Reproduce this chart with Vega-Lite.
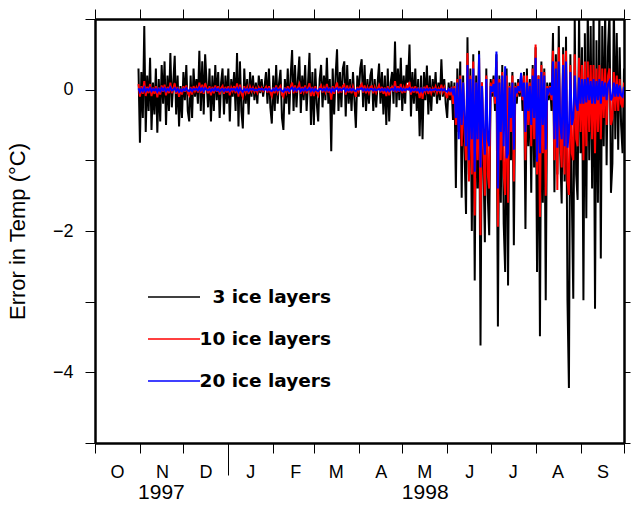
{
"$schema":"https://vega.github.io/schema/vega-lite/v6.json",
"width":529,"height":424,
"autosize":{"type":"none"},
"padding":{"left":95,"top":19,"right":7,"bottom":62},
"background":"white",
"config":{"view":{"stroke":null},"font":"Liberation Sans","axis":{"grid":false}},
"data":{"values":[
{"d":30,"a":0.3,"b":0.08,"c":0.02},{"d":31,"a":-0.75,"b":-0.1,"c":-0.03},{"d":32,"a":0.25,"b":0.05,"c":0.01},{"d":33,"a":-0.4,"b":-0.06,"c":-0.02},{"d":34,"a":0.9,"b":0.12,"c":0.03},{"d":35,"a":-0.6,"b":-0.09,"c":-0.02},{"d":36,"a":0.2,"b":0.04,"c":0.01},{"d":37,"a":-0.3,"b":-0.05,"c":-0.01},{"d":38,"a":0.45,"b":0.08,"c":0.02},{"d":39,"a":-0.57,"b":-0.09,"c":-0.02},
{"d":40,"a":0.1,"b":0.03,"c":0.01},{"d":41,"a":-0.35,"b":-0.06,"c":-0.01},{"d":42,"a":0.3,"b":0.05,"c":0.01},{"d":43,"a":-0.61,"b":-0.11,"c":-0.03},{"d":44,"a":0.15,"b":0.03,"c":0.01},{"d":45,"a":-0.45,"b":-0.07,"c":-0.02},{"d":46,"a":0.35,"b":0.06,"c":0.02},{"d":47,"a":-0.2,"b":-0.03,"c":-0.01},{"d":48,"a":0.4,"b":0.07,"c":0.02},{"d":49,"a":-0.5,"b":-0.08,"c":-0.02},
{"d":50,"a":0.2,"b":0.04,"c":0.01},{"d":51,"a":-0.3,"b":-0.05,"c":-0.01},{"d":52,"a":0.52,"b":0.1,"c":0.03},{"d":53,"a":-0.25,"b":-0.05,"c":-0.01},{"d":54,"a":0.1,"b":0.02,"c":0},{"d":55,"a":0.48,"b":0.09,"c":0.02},{"d":56,"a":-0.35,"b":-0.06,"c":-0.02},{"d":57,"a":0.2,"b":0.04,"c":0.01},{"d":58,"a":-0.52,"b":-0.1,"c":-0.03},{"d":59,"a":0.05,"b":0.01,"c":0},
{"d":60,"a":-0.4,"b":-0.07,"c":-0.02},{"d":61,"a":0.25,"b":0.05,"c":0.01},{"d":62,"a":-0.15,"b":-0.03,"c":-0.01},{"d":63,"a":0.35,"b":0.06,"c":0.02},{"d":64,"a":-0.3,"b":-0.05,"c":-0.01},{"d":65,"a":-0.45,"b":-0.08,"c":-0.02},{"d":66,"a":0.2,"b":0.04,"c":0.01},{"d":67,"a":-0.4,"b":-0.07,"c":-0.02},{"d":68,"a":0.3,"b":0.05,"c":0.01},{"d":69,"a":-0.1,"b":-0.02,"c":0},
{"d":70,"a":0.15,"b":0.03,"c":0.01},{"d":71,"a":-0.2,"b":-0.04,"c":-0.01},{"d":72,"a":0.55,"b":0.1,"c":0.03},{"d":73,"a":-0.3,"b":-0.05,"c":-0.01},{"d":74,"a":0.4,"b":0.07,"c":0.02},{"d":75,"a":-0.35,"b":-0.06,"c":-0.02},{"d":76,"a":0.5,"b":0.09,"c":0.02},{"d":77,"a":0.1,"b":0.02,"c":0},{"d":78,"a":-0.25,"b":-0.05,"c":-0.01},{"d":79,"a":0.3,"b":0.05,"c":0.01},
{"d":80,"a":-0.45,"b":-0.08,"c":-0.02},{"d":81,"a":0.2,"b":0.04,"c":0.01},{"d":82,"a":-0.3,"b":-0.05,"c":-0.01},{"d":83,"a":0.35,"b":0.06,"c":0.02},{"d":84,"a":-0.15,"b":-0.03,"c":-0.01},{"d":85,"a":0.25,"b":0.05,"c":0.01},{"d":86,"a":-0.4,"b":-0.07,"c":-0.02},{"d":87,"a":0.1,"b":0.02,"c":0},{"d":88,"a":0.3,"b":0.05,"c":0.01},{"d":89,"a":-0.35,"b":-0.06,"c":-0.02},
{"d":90,"a":0.2,"b":0.04,"c":0.01},{"d":91,"a":-0.2,"b":-0.04,"c":-0.01},{"d":92,"a":0.3,"b":0.05,"c":0.01},{"d":93,"a":-0.45,"b":-0.08,"c":-0.02},{"d":94,"a":0.15,"b":0.03,"c":0.01},{"d":95,"a":-0.1,"b":-0.02,"c":0},{"d":96,"a":0.25,"b":0.05,"c":0.01},{"d":97,"a":-0.3,"b":-0.05,"c":-0.01},{"d":98,"a":0.52,"b":0.09,"c":0.02},{"d":99,"a":-0.52,"b":-0.1,"c":-0.03},
{"d":100,"a":0.4,"b":0.07,"c":0.02},{"d":101,"a":-0.3,"b":-0.05,"c":-0.01},{"d":102,"a":-0.55,"b":-0.1,"c":-0.03},{"d":103,"a":0.3,"b":0.05,"c":0.01},{"d":104,"a":-0.2,"b":-0.04,"c":-0.01},{"d":105,"a":0.15,"b":0.03,"c":0.01},{"d":106,"a":-0.35,"b":-0.06,"c":-0.02},{"d":107,"a":0.25,"b":0.04,"c":0.01},{"d":108,"a":-0.1,"b":-0.02,"c":0},{"d":109,"a":0.2,"b":0.03,"c":0.01},
{"d":110,"a":-0.15,"b":-0.03,"c":-0.01},{"d":111,"a":0.1,"b":0.02,"c":0},{"d":112,"a":-0.2,"b":-0.04,"c":-0.01},{"d":113,"a":0.2,"b":0.03,"c":0.01},{"d":114,"a":-0.05,"b":-0.01,"c":0},{"d":115,"a":0.15,"b":0.03,"c":0.01},{"d":116,"a":-0.1,"b":-0.02,"c":0},{"d":117,"a":0.05,"b":0.01,"c":0},{"d":118,"a":0.25,"b":0.04,"c":0.01},{"d":119,"a":-0.2,"b":-0.04,"c":-0.01},
{"d":120,"a":0.3,"b":0.05,"c":0.01},{"d":121,"a":-0.25,"b":-0.04,"c":-0.01},{"d":122,"a":-0.48,"b":-0.09,"c":-0.02},{"d":123,"a":0.2,"b":0.03,"c":0.01},{"d":124,"a":-0.3,"b":-0.05,"c":-0.01},{"d":125,"a":0.35,"b":0.06,"c":0.02},{"d":126,"a":-0.2,"b":-0.04,"c":-0.01},{"d":127,"a":0.1,"b":0.02,"c":0},{"d":128,"a":0.28,"b":0.05,"c":0.01},{"d":129,"a":-0.4,"b":-0.07,"c":-0.02},
{"d":130,"a":-0.57,"b":-0.1,"c":-0.03},{"d":131,"a":0.15,"b":0.03,"c":0.01},{"d":132,"a":-0.2,"b":-0.04,"c":-0.01},{"d":133,"a":0.3,"b":0.05,"c":0.01},{"d":134,"a":-0.35,"b":-0.06,"c":-0.02},{"d":135,"a":0.2,"b":0.04,"c":0.01},{"d":136,"a":0.56,"b":0.1,"c":0.03},{"d":137,"a":-0.3,"b":-0.05,"c":-0.01},{"d":138,"a":0.35,"b":0.06,"c":0.02},{"d":139,"a":-0.25,"b":-0.04,"c":-0.01},
{"d":140,"a":0.15,"b":0.03,"c":0.01},{"d":141,"a":0.47,"b":0.08,"c":0.02},{"d":142,"a":-0.33,"b":-0.06,"c":-0.02},{"d":143,"a":0.2,"b":0.04,"c":0.01},{"d":144,"a":-0.15,"b":-0.03,"c":-0.01},{"d":145,"a":0.35,"b":0.06,"c":0.02},{"d":146,"a":-0.3,"b":-0.05,"c":-0.01},{"d":147,"a":0.1,"b":0.02,"c":0},{"d":148,"a":0.52,"b":0.09,"c":0.02},{"d":149,"a":-0.5,"b":-0.09,"c":-0.02},
{"d":150,"a":0.25,"b":0.04,"c":0.01},{"d":151,"a":-0.5,"b":-0.09,"c":-0.02},{"d":152,"a":0.3,"b":0.05,"c":0.01},{"d":153,"a":-0.2,"b":-0.04,"c":-0.01},{"d":154,"a":-0.45,"b":-0.08,"c":-0.02},{"d":155,"a":0.15,"b":0.03,"c":0.01},{"d":156,"a":0.35,"b":0.06,"c":0.01},{"d":157,"a":-0.25,"b":-0.04,"c":-0.01},{"d":158,"a":0.2,"b":0.03,"c":0.01},{"d":159,"a":-0.15,"b":-0.03,"c":-0.01},
{"d":160,"a":0.45,"b":0.08,"c":0.02},{"d":161,"a":-0.2,"b":-0.04,"c":-0.01},{"d":162,"a":0.15,"b":0.03,"c":0.01},{"d":163,"a":-0.87,"b":-0.14,"c":-0.03},{"d":164,"a":0.3,"b":0.05,"c":0.01},{"d":165,"a":-0.35,"b":-0.06,"c":-0.02},{"d":166,"a":0.2,"b":0.04,"c":0.01},{"d":167,"a":0.57,"b":0.1,"c":0.02},{"d":168,"a":-0.3,"b":-0.05,"c":-0.01},{"d":169,"a":0.25,"b":0.04,"c":0.01},
{"d":170,"a":-0.25,"b":-0.04,"c":-0.01},{"d":171,"a":0.3,"b":0.05,"c":0.01},{"d":172,"a":0.4,"b":0.07,"c":0.02},{"d":173,"a":-0.38,"b":-0.07,"c":-0.02},{"d":174,"a":0.35,"b":0.06,"c":0.01},{"d":175,"a":-0.2,"b":-0.04,"c":-0.01},{"d":176,"a":0.15,"b":0.03,"c":0.01},{"d":177,"a":-0.3,"b":-0.05,"c":-0.01},{"d":178,"a":0.25,"b":0.04,"c":0.01},{"d":179,"a":-0.15,"b":-0.03,"c":-0.01},
{"d":180,"a":-0.54,"b":-0.1,"c":-0.02},{"d":181,"a":0.2,"b":0.04,"c":0.01},{"d":182,"a":-0.1,"b":-0.02,"c":0},{"d":183,"a":0.3,"b":0.05,"c":0.01},{"d":184,"a":0.43,"b":0.08,"c":0.02},{"d":185,"a":-0.25,"b":-0.04,"c":-0.01},{"d":186,"a":0.35,"b":0.06,"c":0.01},{"d":187,"a":-0.3,"b":-0.05,"c":-0.01},{"d":188,"a":0.15,"b":0.03,"c":0.01},{"d":189,"a":-0.2,"b":-0.04,"c":-0.01},
{"d":190,"a":0.2,"b":0.04,"c":0.01},{"d":191,"a":0.3,"b":0.05,"c":0.01},{"d":192,"a":-0.3,"b":-0.05,"c":-0.01},{"d":193,"a":0.15,"b":0.03,"c":0.01},{"d":194,"a":-0.25,"b":-0.04,"c":-0.01},{"d":195,"a":0.1,"b":0.02,"c":0},{"d":196,"a":0.37,"b":0.06,"c":0.01},{"d":197,"a":-0.2,"b":-0.04,"c":-0.01},{"d":198,"a":0.25,"b":0.04,"c":0.01},{"d":199,"a":-0.35,"b":-0.06,"c":-0.01},
{"d":200,"a":0.2,"b":0.03,"c":0.01},{"d":201,"a":-0.5,"b":-0.09,"c":-0.02},{"d":202,"a":0.3,"b":0.05,"c":0.01},{"d":203,"a":-0.45,"b":-0.08,"c":-0.02},{"d":204,"a":0.1,"b":0.02,"c":0},{"d":205,"a":0.25,"b":0.04,"c":0.01},{"d":206,"a":-0.2,"b":-0.03,"c":-0.01},{"d":207,"a":0.68,"b":0.12,"c":0.03},{"d":208,"a":-0.25,"b":-0.04,"c":-0.01},{"d":209,"a":0.3,"b":0.05,"c":0.01},
{"d":210,"a":-0.15,"b":-0.03,"c":-0.01},{"d":211,"a":0.45,"b":0.08,"c":0.02},{"d":212,"a":-0.3,"b":-0.05,"c":-0.01},{"d":213,"a":0.2,"b":0.03,"c":0.01},{"d":214,"a":-0.2,"b":-0.04,"c":-0.01},{"d":215,"a":0.35,"b":0.06,"c":0.01},{"d":216,"a":0.1,"b":0.02,"c":0},{"d":217,"a":0.64,"b":0.11,"c":0.02},{"d":218,"a":-0.38,"b":-0.07,"c":-0.02},{"d":219,"a":0.25,"b":0.04,"c":0.01},
{"d":220,"a":-0.2,"b":-0.04,"c":-0.01},{"d":221,"a":0.3,"b":0.05,"c":0.01},{"d":222,"a":-0.3,"b":-0.05,"c":-0.01},{"d":223,"a":0.15,"b":0.03,"c":0.01},{"d":224,"a":-0.66,"b":-0.12,"c":-0.03},{"d":225,"a":0.2,"b":0.03,"c":0.01},{"d":226,"a":-0.7,"b":-0.13,"c":-0.03},{"d":227,"a":0.25,"b":0.04,"c":0.01},{"d":228,"a":-0.15,"b":-0.03,"c":-0.01},{"d":229,"a":0.34,"b":0.06,"c":0.01},
{"d":230,"a":-0.35,"b":-0.06,"c":-0.01},{"d":231,"a":0.2,"b":0.03,"c":0.01},{"d":232,"a":-0.3,"b":-0.05,"c":-0.01},{"d":233,"a":0.15,"b":0.02,"c":0},{"d":234,"a":-0.1,"b":-0.02,"c":0},{"d":235,"a":0.25,"b":0.04,"c":0.01},{"d":236,"a":-0.2,"b":-0.04,"c":-0.01},{"d":237,"a":0.1,"b":0.02,"c":0},{"d":238,"a":-0.15,"b":-0.03,"c":-0.01},{"d":239,"a":0.43,"b":0.07,"c":0.01},
{"d":240,"a":-0.1,"b":-0.03,"c":-0.01},{"d":241,"a":0.15,"b":0.03,"c":0.01},{"d":242,"a":-0.2,"b":-0.06,"c":-0.02},{"d":243,"a":-0.4,"b":-0.12,"c":-0.03},{"d":244,"a":0.1,"b":0.02,"c":0.01},{"d":245,"a":-0.15,"b":-0.08,"c":-0.02},{"d":246,"a":0.12,"b":0.04,"c":0.01},{"d":247,"a":-0.43,"b":-0.2,"c":-0.05},{"d":248,"a":0.1,"b":0.05,"c":0.02},
{"d":249,"a":-1.39,"b":-0.5,"c":-0.4},{"d":250,"a":0.3,"b":0.15,"c":0.1},{"d":251,"a":-0.6,"b":-0.6,"c":-0.7},{"d":252,"a":0.4,"b":0.2,"c":0.15},{"d":253,"a":-1.53,"b":-0.8,"c":-0.5},{"d":254,"a":0.2,"b":0.1,"c":0.1},{"d":255,"a":-0.9,"b":-0.6,"c":-0.4},{"d":256,"a":-1.76,"b":-1.0,"c":-0.8},{"d":257,"a":0.74,"b":0.52,"c":0.35},{"d":258,"a":-1.2,"b":-1.3,"c":-1.0},{"d":259,"a":0.3,"b":0.2,"c":0.15},
{"d":260,"a":-2.0,"b":-1.2,"c":-0.7},{"d":261,"a":0.5,"b":0.4,"c":0.3},{"d":262,"a":-2.7,"b":-1.78,"c":-1.16},{"d":263,"a":0.2,"b":0.1,"c":0.1},{"d":264,"a":-1.4,"b":-1.0,"c":-0.7},{"d":265,"a":0.55,"b":0.45,"c":0.5},{"d":266,"a":-3.62,"b":-2.06,"c":-1.1},{"d":267,"a":0.1,"b":0.1,"c":0.05},{"d":268,"a":-1.0,"b":-0.8,"c":-0.6},{"d":269,"a":-2.16,"b":-1.5,"c":-0.92},
{"d":270,"a":0.3,"b":0.2,"c":0.15},{"d":271,"a":-1.5,"b":-1.2,"c":-0.7},{"d":272,"a":-2.06,"b":-1.4,"c":-0.8},{"d":273,"a":0.15,"b":0.1,"c":0.05},{"d":274,"a":-0.1,"b":-0.05,"c":-0.03},{"d":275,"a":0.2,"b":0.15,"c":0.08},{"d":276,"a":-0.3,"b":-0.2,"c":-0.1},{"d":277,"a":0.5,"b":0.4,"c":0.54},{"d":278,"a":-3.35,"b":-1.94,"c":-1.4},{"d":279,"a":0.2,"b":0.15,"c":0.1},
{"d":280,"a":-1.6,"b":-1.0,"c":-0.6},{"d":281,"a":0.35,"b":0.25,"c":0.2},{"d":282,"a":-1.9,"b":-1.2,"c":-0.8},{"d":283,"a":-2.58,"b":-1.49,"c":0.33},{"d":284,"a":0.3,"b":0.2,"c":-0.97},{"d":285,"a":-2.77,"b":-1.6,"c":-0.9},{"d":286,"a":0.1,"b":0.05,"c":0.03},{"d":287,"a":-1.0,"b":-0.6,"c":-0.4},{"d":288,"a":0.25,"b":0.2,"c":0.1},{"d":289,"a":-2.2,"b":-1.3,"c":-0.85},
{"d":290,"a":0.1,"b":0.05,"c":0.03},{"d":291,"a":-0.2,"b":-0.1,"c":-0.05},{"d":292,"a":0.15,"b":0.1,"c":0.05},{"d":293,"a":-0.1,"b":-0.05,"c":-0.02},{"d":294,"a":0.2,"b":0.15,"c":0.24},{"d":295,"a":-0.3,"b":-0.15,"c":-0.1},{"d":296,"a":0.25,"b":0.2,"c":0.1},{"d":297,"a":-1.97,"b":-1.0,"c":-0.6},{"d":298,"a":0.3,"b":0.2,"c":0.1},{"d":299,"a":-0.8,"b":-0.5,"c":-0.3},
{"d":300,"a":0.15,"b":0.1,"c":0.05},{"d":301,"a":-1.46,"b":-0.8,"c":-0.5},{"d":302,"a":0.35,"b":0.3,"c":0.2},{"d":303,"a":-1.1,"b":-0.7,"c":-0.4},{"d":304,"a":0.6,"b":0.64,"c":0.45},{"d":305,"a":-2.58,"b":-1.2,"c":-1.02},{"d":306,"a":0.2,"b":0.2,"c":0.15},{"d":307,"a":-3.49,"b":-1.8,"c":-0.9},{"d":308,"a":0.4,"b":0.35,"c":0.25},{"d":309,"a":-1.6,"b":-0.9,"c":-0.5},
{"d":310,"a":0.3,"b":0.25,"c":0.2},{"d":311,"a":-2.98,"b":-1.5,"c":-0.85},{"d":312,"a":0.1,"b":0.05,"c":0.02},{"d":313,"a":-0.15,"b":-0.08,"c":-0.04},{"d":314,"a":0.1,"b":0.05,"c":0.03},{"d":315,"a":-0.3,"b":-0.15,"c":-0.08},{"d":316,"a":0.8,"b":0.55,"c":0.4},{"d":317,"a":-1.45,"b":-1.0,"c":-0.7},{"d":318,"a":0.5,"b":0.4,"c":0.3},{"d":319,"a":-1.2,"b":-1.42,"c":-0.82},
{"d":320,"a":0.9,"b":0.6,"c":0.4},{"d":321,"a":-0.9,"b":-0.7,"c":-0.5},{"d":322,"a":-1.61,"b":-1.1,"c":-0.7},{"d":323,"a":0.6,"b":0.5,"c":0.35},{"d":324,"a":-1.3,"b":-1.2,"c":-0.8},{"d":325,"a":0.75,"b":0.55,"c":0.4},{"d":326,"a":-2.98,"b":-1.3,"c":-0.82},{"d":327,"a":-4.22,"b":-1.49,"c":-0.6},{"d":328,"a":0.5,"b":0.35,"c":0.25},{"d":329,"a":-1.5,"b":-0.9,"c":-0.5},
{"d":330,"a":-2.96,"b":-1.0,"c":-0.4},{"d":331,"a":1.05,"b":0.5,"c":0.2},{"d":332,"a":-1.2,"b":-0.7,"c":-0.2},{"d":333,"a":-1.56,"b":-0.8,"c":-0.3},{"d":334,"a":1.1,"b":0.45,"c":0.17},{"d":335,"a":-0.9,"b":-0.6,"c":-0.2},{"d":336,"a":0.6,"b":0.35,"c":0.15},{"d":337,"a":-2.98,"b":-1.0,"c":-0.2},{"d":338,"a":0.8,"b":0.4,"c":0.15},{"d":339,"a":-1.82,"b":-0.8,"c":-0.18},
{"d":340,"a":1.2,"b":0.4,"c":0.17},{"d":341,"a":-1.0,"b":-0.6,"c":-0.15},{"d":342,"a":0.9,"b":0.35,"c":0.12},{"d":343,"a":-1.4,"b":-0.7,"c":-0.2},{"d":344,"a":1.1,"b":0.35,"c":0.15},{"d":345,"a":-3.1,"b":-0.9,"c":-0.2},{"d":346,"a":0.7,"b":0.3,"c":0.12},{"d":347,"a":-1.6,"b":-0.6,"c":-0.15},{"d":348,"a":1.2,"b":0.35,"c":0.15},{"d":349,"a":-2.39,"b":-0.7,"c":-0.2},
{"d":350,"a":0.9,"b":0.3,"c":0.12},{"d":351,"a":-0.8,"b":-0.4,"c":-0.1},{"d":352,"a":1.15,"b":0.3,"c":0.1},{"d":353,"a":-1.07,"b":-0.5,"c":-0.15},{"d":354,"a":0.6,"b":0.2,"c":0.08},{"d":355,"a":1.1,"b":0.3,"c":0.12},{"d":356,"a":-1.46,"b":-0.5,"c":-0.15},{"d":357,"a":-1.04,"b":-0.4,"c":-0.1},{"d":358,"a":1.2,"b":0.25,"c":0.1},{"d":359,"a":-0.7,"b":-0.3,"c":-0.1},
{"d":360,"a":0.8,"b":0.2,"c":0.08},{"d":361,"a":-0.85,"b":-0.3,"c":-0.1},{"d":362,"a":0.6,"b":0.15,"c":0.06},{"d":363,"a":-0.5,"b":-0.2,"c":-0.08},{"d":364,"a":-0.9,"b":-0.25,"c":-0.1},{"d":365,"a":0.3,"b":0.1,"c":0.04}
]},
"layer":[
{"mark":{"type":"line","strokeWidth":2,"clip":true},
 "encoding":{
  "x":{"field":"d","type":"quantitative","scale":{"domain":[0,365],"nice":false,"zero":false},
   "axis":{"orient":"bottom","values":[0,31,61,92,123,151,182,212,243,273,304,335,365],
    "labelExpr":"['O','N','D','J','F','M','A','M','J','J','A','S',''][indexof([0,31,61,92,123,151,182,212,243,273,304,335,365], datum.value)]",
    "labelOffset":22,"labelPadding":10,"labelFontSize":18,"labelColor":"black","labelFlush":false,"labelOverlap":false,
    "tickSize":10,"tickColor":"black","tickWidth":1,
    "domainColor":"black","domainWidth":2.5,"title":null}},
  "y":{"field":"a","type":"quantitative","scale":{"domain":[-5,1],"nice":false,"zero":false},
   "axis":{"orient":"left","values":[-5,-4,-3,-2,-1,0,1],
    "labelExpr":"datum.value == 0 ? '0' : datum.value == -2 ? '−2' : datum.value == -4 ? '−4' : ''",
    "labelFontSize":18,"labelColor":"black","labelPadding":12,"labelFlush":false,"labelOverlap":false,
    "tickSize":10,"tickColor":"black","tickWidth":1,"domainColor":"black","domainWidth":2.5,
    "title":"Error in Temp (°C)","titleFontSize":22,"titleFontWeight":"normal","titleColor":"black","titlePadding":23}},
  "color":{"datum":"3 ice layers","type":"nominal",
   "scale":{"domain":["3 ice layers","10 ice layers","20 ice layers"],"range":["#000000","#ff0000","#0000ff"]},
   "legend":{"orient":"none","legendX":52,"legendY":251,"title":null,"direction":"vertical","symbolType":"stroke","symbolSize":2704,"symbolStrokeWidth":1.5,
    "labelFont":"DejaVu Sans","labelFontWeight":"bold","labelFontSize":18.5,"labelColor":"black","labelAlign":"right","labelOffset":130,"labelLimit":300,"rowPadding":5,"padding":0}}
 }},
{"mark":{"type":"line","strokeWidth":2,"clip":true},
 "encoding":{
  "x":{"field":"d","type":"quantitative",
   "axis":{"orient":"top","values":[0,31,61,92,123,151,182,212,243,273,304,335,365],"labels":false,"tickSize":10,"tickColor":"black","tickWidth":1,"domainColor":"black","domainWidth":2.5,"title":null}},
  "y":{"field":"b","type":"quantitative",
   "axis":{"orient":"right","values":[-5,-4,-3,-2,-1,0,1],"labels":false,"tickSize":6,"tickColor":"black","tickWidth":1,"domainColor":"black","domainWidth":2.5,"title":null}},
  "color":{"datum":"10 ice layers","type":"nominal"}
 }},
{"mark":{"type":"line","strokeWidth":2,"clip":true},
 "encoding":{
  "x":{"field":"d","type":"quantitative",
   "axis":{"orient":"bottom","values":[45.5,92,227.5],"labelExpr":"datum.value == 92 ? '' : datum.value < 100 ? '1997' : '1998'",
    "ticks":true,"tickSize":{"condition":{"test":"datum.value == 92","value":32},"value":0},"tickColor":"black","tickWidth":1,
    "domain":false,"labelPadding":38,"labelFontSize":21,"labelColor":"black","labelFlush":false,"labelOverlap":false,"title":null}},
  "y":{"field":"c","type":"quantitative","axis":null},
  "color":{"datum":"20 ice layers","type":"nominal"}
 }}
],
"resolve":{"axis":{"x":"independent","y":"independent"}}
}
